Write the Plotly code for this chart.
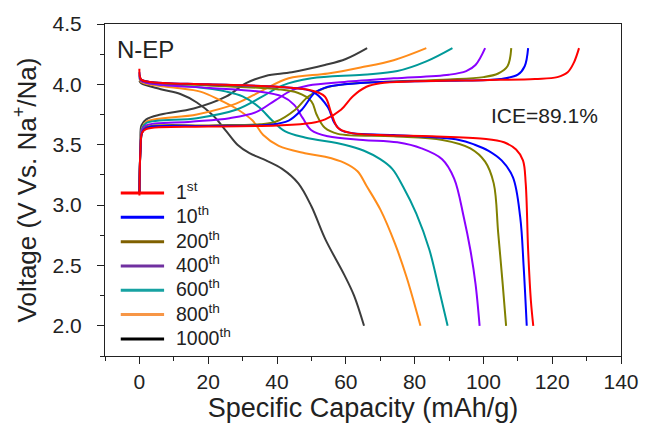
import plotly.graph_objects as go

# ---- data ----
cycle_names = ["1<sup>st</sup>", "10<sup>th</sup>", "200<sup>th</sup>", "400<sup>th</sup>",
               "600<sup>th</sup>", "800<sup>th</sup>", "1000<sup>th</sup>"]
cycle_colors = ["#ff0000", "#0000ff", "#808000", "#8a00ff", "#009999", "#ff8c1a", "#3c3c3c"]
legend_colors = ["#ff0000", "#0000ff", "#7f6000", "#7030a0", "#17a2a2", "#f79646", "#000000"]

# 1st cycle
ch1_x = [0, 0.3, 0.8, 2, 20, 40, 50, 54, 58.6, 62, 66, 70, 80, 100, 115, 121.5, 124.5, 126.3, 127.8]
ch1_y = [3.08, 3.45, 3.6, 3.63, 3.65, 3.66, 3.68, 3.71, 3.79, 3.9, 3.98, 4.01, 4.025, 4.035, 4.045, 4.06, 4.1, 4.18, 4.3]
dc1_x = [0, 0.5, 3, 20, 40, 50, 53.9, 55.8, 57.7, 61, 70, 85, 100, 106, 109.5, 111.5, 112.3, 113, 113.8, 114.5]
dc1_y = [4.13, 4.04, 4.02, 4.0, 3.98, 3.95, 3.9, 3.76, 3.64, 3.6, 3.58, 3.57, 3.55, 3.52, 3.46, 3.37, 3.18, 2.63, 2.21, 2.0]

# 10th cycle
ch10_x = [0, 0.3, 0.8, 2, 20, 37.7, 43.4, 47.2, 51, 54.8, 59.6, 70, 90, 105, 110, 112, 113]
ch10_y = [3.1, 3.45, 3.6, 3.64, 3.655, 3.665, 3.70, 3.79, 3.93, 3.98, 4.0, 4.02, 4.03, 4.045, 4.08, 4.15, 4.3]
dc10_x = [0, 0.5, 3, 20, 40, 48, 51, 54.8, 56.7, 58.6, 62, 73.9, 92.9, 97.5, 101.5, 105.3, 108.6, 110.7, 111.7, 112.6]
dc10_y = [4.1, 4.04, 4.02, 4.0, 3.98, 3.96, 3.93, 3.81, 3.68, 3.62, 3.595, 3.58, 3.54, 3.5, 3.45, 3.37, 3.23, 2.90, 2.49, 2.0]

# 200th cycle
ch200_x = [0, 0.3, 0.8, 2, 20, 35, 39.6, 45.3, 49.1, 53.9, 59.6, 70, 90, 100, 104.3, 107, 108.1]
ch200_y = [3.1, 3.45, 3.6, 3.645, 3.66, 3.67, 3.69, 3.79, 3.90, 3.97, 4.0, 4.02, 4.04, 4.06, 4.09, 4.15, 4.3]
dc200_x = [0, 0.5, 3, 20, 40, 46, 50, 51.5, 53.9, 57.7, 73.9, 88.1, 96.2, 100.5, 103, 104.3, 105.6, 106.6]
dc200_y = [4.08, 4.04, 4.02, 3.99, 3.96, 3.93, 3.86, 3.75, 3.64, 3.59, 3.57, 3.54, 3.47, 3.36, 3.18, 2.77, 2.35, 2.0]

# 400th cycle
ch400_x = [0, 0.3, 0.8, 2, 15, 26.2, 33.9, 39.6, 44.3, 49.1, 59.6, 73.9, 90, 95, 97.7, 100.5]
ch400_y = [3.1, 3.45, 3.62, 3.66, 3.69, 3.72, 3.77, 3.87, 3.95, 3.99, 4.02, 4.05, 4.08, 4.11, 4.16, 4.3]
dc400_x = [0, 0.5, 5, 20.5, 34.8, 41.5, 45, 47.5, 50, 54.8, 65, 75, 82, 88, 91.5, 94.3, 96.2, 97.7, 98.9]
dc400_y = [4.07, 4.03, 4.0, 3.97, 3.94, 3.9, 3.83, 3.72, 3.62, 3.57, 3.54, 3.52, 3.47, 3.38, 3.22, 2.90, 2.63, 2.35, 2.0]

# 600th cycle
ch600_x = [0, 0.3, 0.8, 2, 16.7, 28.1, 35.8, 41.5, 50, 65, 75, 83.4, 91]
ch600_y = [3.1, 3.45, 3.63, 3.68, 3.72, 3.79, 3.90, 3.99, 4.05, 4.08, 4.11, 4.19, 4.3]
dc600_x = [0, 0.5, 5, 15.8, 25.3, 30, 34.8, 38.6, 42.4, 48.1, 59.6, 65.3, 70, 73.5, 76.7, 80.5, 84.3, 87.2, 89.6]
dc600_y = [4.06, 4.03, 4.0, 3.98, 3.94, 3.9, 3.81, 3.70, 3.61, 3.56, 3.5, 3.45, 3.38, 3.3, 3.15, 2.93, 2.63, 2.29, 2.0]

# 800th cycle
ch800_x = [0, 0.3, 0.8, 2, 16.7, 28.1, 35.8, 43.4, 54.8, 64.3, 73.9, 83.4]
ch800_y = [3.1, 3.45, 3.64, 3.69, 3.75, 3.84, 3.95, 4.05, 4.09, 4.14, 4.2, 4.3]
dc800_x = [0, 0.5, 5, 11, 17.7, 23.4, 28.1, 32.9, 36, 40.5, 48.1, 54, 59.6, 63.4, 66, 70.1, 74.3, 77.7, 81.7]
dc800_y = [4.05, 4.02, 3.99, 3.97, 3.94, 3.87, 3.80, 3.70, 3.58, 3.49, 3.43, 3.40, 3.35, 3.28, 3.16, 2.96, 2.68, 2.40, 2.0]

# 1000th cycle
ch1000_x = [0, 0.3, 0.6, 2, 6.2, 15.8, 25.3, 31, 36.7, 44.3, 53.9, 60, 66.2]
ch1000_y = [3.1, 3.5, 3.66, 3.71, 3.75, 3.80, 3.90, 4.01, 4.07, 4.10, 4.16, 4.21, 4.3]
dc1000_x = [0, 0.5, 6.2, 11.9, 16.7, 21.5, 25.3, 28.5, 32, 36, 41.5, 46.2, 50, 54, 59.6, 62.4, 65.3]
dc1000_y = [4.03, 4.01, 3.96, 3.92, 3.85, 3.74, 3.61, 3.5, 3.43, 3.38, 3.3, 3.18, 2.99, 2.72, 2.42, 2.25, 2.0]

charge_x = [ch1_x, ch10_x, ch200_x, ch400_x, ch600_x, ch800_x, ch1000_x]
charge_y = [ch1_y, ch10_y, ch200_y, ch400_y, ch600_y, ch800_y, ch1000_y]
discharge_x = [dc1_x, dc10_x, dc200_x, dc400_x, dc600_x, dc800_x, dc1000_x]
discharge_y = [dc1_y, dc10_y, dc200_y, dc400_y, dc600_y, dc800_y, dc1000_y]

x_ticks = [0, 20, 40, 60, 80, 100, 120, 140]
y_ticks = [2.0, 2.5, 3.0, 3.5, 4.0, 4.5]

FONT = "Arial, Liberation Sans, sans-serif"
INK = "#222222"

fig = go.Figure()
# later cycles drawn first so the early cycles sit on top
for i in reversed(range(len(cycle_names))):
    for xs, ys in [(charge_x[i], charge_y[i]), (discharge_x[i], discharge_y[i])]:
        fig.add_trace(go.Scatter(
            x=xs, y=ys, mode="lines", name=cycle_names[i],
            line=dict(color=cycle_colors[i], width=2, shape="spline", smoothing=1.0),
            showlegend=False, hoverinfo="skip",
        ))

# legend drawn as layout decorations (line sample + label) inside the plot area
PLOT_L, PLOT_R, PLOT_T, PLOT_B = 105, 629, 23, 356
def px_x(p):
    return (p - PLOT_L) / (PLOT_R - PLOT_L)
def px_y(p):
    return (PLOT_B - p) / (PLOT_B - PLOT_T)

shapes = []
annotations = []
for k, (nm, col) in enumerate(zip(cycle_names, legend_colors)):
    yy = px_y(192.5 + 24.4 * k)
    shapes.append(dict(type="line", xref="paper", yref="paper",
                       x0=px_x(121), x1=px_x(165), y0=yy, y1=yy,
                       line=dict(color=col, width=3)))
    annotations.append(dict(text=nm, xref="paper", yref="paper", x=px_x(175), y=px_y(192.5 + 24.4 * k - 2),
                            xanchor="left", yanchor="middle", showarrow=False,
                            font=dict(family=FONT, size=19.5, color=INK)))

annotations += [
    dict(text="N-EP", xref="paper", yref="paper", x=px_x(115), y=px_y(49),
         xanchor="left", yanchor="middle", showarrow=False,
         font=dict(family=FONT, size=24, color=INK)),
    dict(text="ICE=89.1%", xref="paper", yref="paper", x=px_x(495), y=px_y(115),
         xanchor="left", yanchor="middle", showarrow=False,
         font=dict(family=FONT, size=21, color=INK)),
]

axis_common = dict(
    showline=True, linecolor=INK, linewidth=1.2, mirror=True,
    showgrid=False, zeroline=False,
    ticks="outside", ticklen=7, tickwidth=1.2, tickcolor=INK,
    tickfont=dict(family=FONT, size=21, color=INK),
)

fig.update_layout(
    width=651, height=432,
    margin=dict(l=PLOT_L, r=651 - PLOT_R, t=PLOT_T, b=432 - PLOT_B),
    paper_bgcolor="white", plot_bgcolor="white",
    font=dict(family=FONT, color=INK),
    showlegend=False,
    xaxis=dict(range=[-10, 140], tickvals=x_ticks,
               minor=dict(dtick=10, tick0=0, ticks="outside", ticklen=4, tickwidth=1.2, tickcolor=INK),
               title=dict(text="Specific Capacity (mAh/g)", font=dict(family=FONT, size=27), standoff=2),
               **axis_common),
    yaxis=dict(range=[1.75, 4.5], tickvals=y_ticks, tickformat=".1f", ticklabelstandoff=11,
               minor=dict(dtick=0.25, tick0=2.0, ticks="outside", ticklen=4, tickwidth=1.2, tickcolor=INK),
               title=dict(text="Voltage (V Vs. Na<sup>+</sup>/Na)", font=dict(family=FONT, size=26), standoff=8),
               **axis_common),
    shapes=shapes,
    annotations=annotations,
)

fig.write_html("out.html")
